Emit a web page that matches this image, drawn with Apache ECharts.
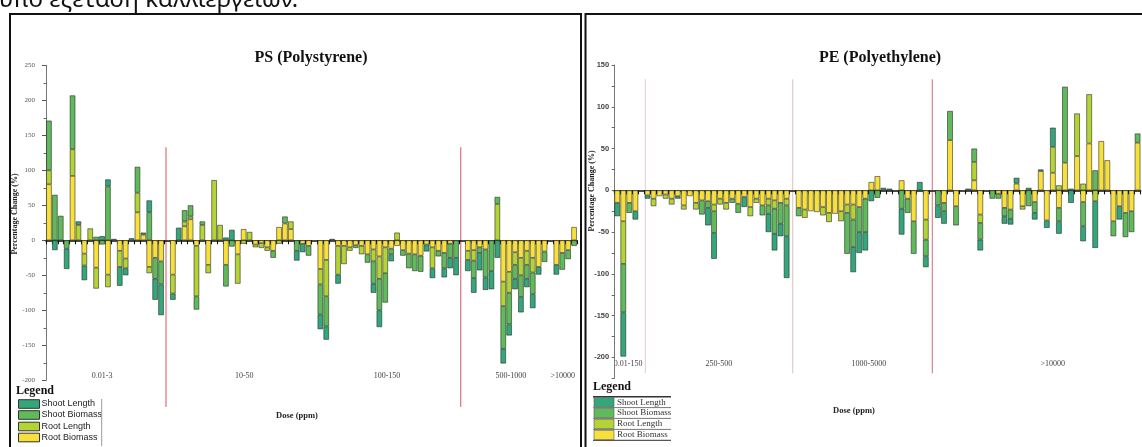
<!DOCTYPE html>
<html>
<head>
<meta charset="utf-8">
<title>PS / PE dose response</title>
<script src="https://cdn.jsdelivr.net/npm/echarts@6/dist/echarts.min.js"></script>
<style>
  html, body { margin: 0; padding: 0; background: #ffffff; }
  #chart { width: 1142px; height: 447px; }
</style>
</head>
<body>
<div id="chart"></div>
<script>
const _ = null;

// Series drawn in stacking order, nearest the zero line first
const seriesNames = ['Root Biomass', 'Root Length', 'Shoot Biomass', 'Shoot Length'];
const legendOrder = ['Shoot Length', 'Shoot Biomass', 'Root Length', 'Root Biomass'];
const seriesColors = {
  'Root Biomass': '#f8e03a',
  'Root Length': '#b4d335',
  'Shoot Biomass': '#5fba5a',
  'Shoot Length': '#33a77a'
};

// ---- PS (Polystyrene): percentage change per treatment ----
const psRootBiomass = [
  80, _, _, _, 92, _, -19, _, -39, _,
  -49, _, -15, -26, _, 40, 8, -38, -25, -30,
  _, -49, _, 20, 30, -8, _, -35, _, _,
  -35, _, -20, 16, _, -6, -4, -10, -15, 19,
  24, 16, _, -5, -8, _, -41, -28, _, -8,
  -8, -10, -7, -8, -20, -13, -23, -10, -12, -8,
  -14, -19, -20, -22, -6, -10, -15, -18, -5, _,
  _, -15, -14, -10, -13, _, _, -59, -45, -17,
  -25, -15, -25, -38, -16, _, -35, -18, -14, 19
];
const psRootLength = [
  20, _, _, _, 38, 22, -17, 17, -30, _,
  -18, _, -23, -14, _, 28, _, -9, _, _,
  _, -27, _, 7, 4, -72, 22, -12, 86, 22,
  _, _, -42, -5, 12, -4, -7, -5, _, -5,
  _, 11, _, _, _, _, -22, -52, _, -41,
  -26, -5, _, -12, _, -17, -32, -37, _, 11,
  _, _, _, _, _, -30, _, _, _, _,
  _, -13, -15, _, _, _, 52, -35, -30, -18,
  -25, -20, -21, _, _, _, _, _, _, _
];
const psShootBiomass = [
  71, 65, 35, -12, 77, _, _, _, 5, -6,
  77, _, _, _, _, 37, _, 40, -30, -33,
  _, _, _, 16, 16, -19, 5, _, _, _,
  -31, -9, _, _, _, _, _, _, -10, _,
  10, _, -15, _, -14, _, -43, -43, _, _,
  _, _, -4, _, -12, -32, -45, -42, -8, _,
  -8, -21, -24, -23, _, _, -8, -22, -20, -25,
  _, _, -25, -8, -40, -44, 10, -61, -45, -20,
  -31, -20, -31, _, -15, _, _, -24, -13, -8
];
const psShootLength = [
  _, -14, _, -29, _, 5, -21, _, _, 6,
  10, 2, -27, -10, 3, _, 3, 17, -30, -44,
  _, -9, 18, _, _, _, _, _, _, _,
  4, 15, _, _, _, _, _, _, _, _,
  _, _, -14, -12, _, _, -21, -19, 2, -13,
  _, _, _, _, _, -13, -24, _, -10, _,
  _, _, _, _, -10, -14, _, -13, -15, -25,
  _, -16, -21, -25, -18, -26, -25, -21, -16, -15,
  -22, -12, -20, -11, _, _, -14, _, _, _
];

// ---- PE (Polyethylene): percentage change per treatment ----
const peRootBiomass = [
  -15, -37, -15, -25, _, -6, -10, -7, -5, -10,
  -7, -18, -7, -15, -12, -13, -17, -10, -15, -10,
  -16, -8, -20, -10, -18, -10, -12, -15, -10, _,
  -21, -23, -25, -26, -20, -27, -28, -25, -17, -17,
  -20, -10, 10, 17, _, _, _, 12, -10, -37,
  _, -35, _, _, -15, 60, -19, _, _, 12,
  -29, _, _, -4, -21, -23, 8, -19, _, -14,
  23, -36, 21, -21, 33, _, 41, -14, 56, _,
  59, 36, -37, -19, -27, -25, 57
];
const peRootLength = [
  _, -51, _, _, _, _, -9, _, -5, -7,
  _, -5, _, -8, _, _, -8, -7, -8, _,
  _, _, -11, -5, _, -8, -10, _, -8, _,
  _, -10, _, _, -10, -11, _, -12, -10, -18,
  _, _, _, _, _, _, _, _, _, _,
  _, -24, _, _, _, _, _, _, _, 22,
  -10, _, _, _, _, _, _, -4, _, _,
  _, _, 31, 6, _, _, 51, 8, 59, -13,
  _, _, _, _, _, _, _
];
const peShootBiomass = [
  _, -58, -12, _, _, _, _, _, _, _,
  _, _, _, _, -17, -8, -26, _, _, -5,
  -11, _, _, _, -12, -10, -30, -25, -37, _,
  -10, _, _, _, _, _, _, _, -49, -33,
  -30, -40, _, -9, _, _, _, -22, -17, -39,
  _, -20, _, -18, -10, 35, -23, _, _, 16,
  -20, _, -10, -6, -10, -11, _, _, -19, -13,
  _, _, _, -16, 91, 2, _, -29, _, 24,
  _, _, -18, _, -29, -25, 11
];
const peShootLength = [
  -16, -53, _, -10, _, -4, _, _, _, _,
  -3, _, _, _, _, -21, -31, _, _, _,
  _, -12, _, _, _, -22, -20, -15, -50, _,
  _, _, _, _, _, _, _, _, _, -30,
  -25, -22, -13, _, 3, 2, _, -31, _, _,
  10, -13, _, -15, -15, _, _, _, 2, _,
  -13, _, _, _, -9, -7, 7, _, 3, -8,
  2, -9, 23, -15, _, -15, _, -18, _, -56,
  _, _, _, -16, _, _, _
];

const psCategories = psRootBiomass.map((v, i) => 'PS ' + (i + 1));
const peCategories = peRootBiomass.map((v, i) => 'PE ' + (i + 1));

// y-axis tick values
const psYTicks = { min: -200, max: 250, step: 50 };
const peYTicks = { min: -225, max: 150, step: 25, labelEvery: 50 };

// dose groups: label text and its position along the category axis
const psGroups = [
  { label: '0.01-3', at: 9.0 },
  { label: '10-50', at: 33.1 },
  { label: '100-150', at: 57.3 },
  { label: '500-1000', at: 78.3 },
  { label: '>10000', at: 87.1 }
];
const peGroups = [
  { label: '0.01-150', at: 1.8 },
  { label: '250-500', at: 16.8 },
  { label: '1000-5000', at: 41.6 },
  { label: '>10000', at: 72.0 }
];
// group separators (fractional category positions)
const psDividers = [
  { at: 19.84, color: '#d9737a' },
  { at: 69.79, color: '#d9737a' }
];
const peDividers = [
  { at: 4.65, color: '#e4d6d6' },
  { at: 29.0, color: '#e8c6c8' },
  { at: 52.08, color: '#d8868b' }
];

const SERIF = 'Liberation Serif';
const SANS = 'Liberation Sans';

function panelSeries(stack, axisIndex, columns) {
  return seriesNames.map((name, i) => ({
    name: name,
    type: 'bar',
    stack: stack,
    xAxisIndex: axisIndex,
    yAxisIndex: axisIndex,
    data: columns[i],
    barCategoryGap: '6%',
    itemStyle: {
      color: seriesColors[name],
      borderColor: 'rgba(35,35,35,0.8)',
      borderWidth: 0.7
    },
    emphasis: { disabled: true }
  }));
}

function categoryAxis(gridIndex, data) {
  return {
    type: 'category',
    gridIndex: gridIndex,
    data: data,
    axisLine: { onZero: true, lineStyle: { color: '#111', width: 1.6 } },
    axisTick: { show: true, interval: 0, length: 4, lineStyle: { color: '#111', width: 1.1 } },
    axisLabel: { show: false },
    splitLine: { show: false }
  };
}

const option = {
  animation: false,
  backgroundColor: '#ffffff',
  grid: [
    { left: 46, top: 65.3, width: 531, height: 315, containLabel: false, outerBoundsMode: 'none' },
    { left: 614.2, top: 65, width: 526.4, height: 313.3, containLabel: false, outerBoundsMode: 'none' }
  ],
  xAxis: [categoryAxis(0, psCategories), categoryAxis(1, peCategories)],
  yAxis: [
    {
      type: 'value', gridIndex: 0,
      min: psYTicks.min, max: psYTicks.max, interval: psYTicks.step,
      axisLine: { show: true, lineStyle: { color: '#777', width: 1 } },
      axisTick: { show: true, length: 4, lineStyle: { color: '#555' } },
      minorTick: { show: true, splitNumber: 2, length: 2.5, lineStyle: { color: '#666' } },
      axisLabel: { fontFamily: SERIF, fontSize: 7, color: '#555', margin: 11 },
      splitLine: { show: false }, minorSplitLine: { show: false }
    },
    {
      type: 'value', gridIndex: 1,
      min: peYTicks.min, max: peYTicks.max, interval: peYTicks.step,
      axisLine: { show: true, lineStyle: { color: '#777', width: 1 } },
      axisTick: { show: true, length: 2.5, lineStyle: { color: '#666' } },
      axisLabel: {
        fontFamily: SANS, fontSize: 7.5, fontWeight: 'bold', color: '#444', margin: 5,
        formatter: v => (v % peYTicks.labelEvery === 0 ? String(v) : '')
      },
      splitLine: { show: false }
    }
  ],
  series: [
    ...panelSeries('ps', 0, [psRootBiomass, psRootLength, psShootBiomass, psShootLength]),
    ...panelSeries('pe', 1, [peRootBiomass, peRootLength, peShootBiomass, peShootLength])
  ]
};

const chart = echarts.init(document.getElementById('chart'), null, { renderer: 'canvas' });
chart.setOption(option);

// pixel position of a (fractional) category index and a value on a panel
function toPixel(grid, cat, val) {
  const k = Math.floor(cat), t = cat - k;
  const a = chart.convertToPixel({ gridIndex: grid }, [k, val]);
  const b = chart.convertToPixel({ gridIndex: grid }, [k + 1, val]);
  return [a[0] + (b[0] - a[0]) * t, a[1]];
}

function text(x, y, str, o) {
  return {
    type: 'text', x: x, y: y, rotation: o.rotation || 0, silent: true,
    style: {
      text: str, fontFamily: o.family || SERIF, fontSize: o.size || 9,
      fontWeight: o.weight || 'normal', fill: o.color || '#222',
      align: o.align || 'center', verticalAlign: 'middle'
    }
  };
}
function line(x1, y1, x2, y2, color, width) {
  return { type: 'line', silent: true, shape: { x1, y1, x2, y2 }, style: { stroke: color, lineWidth: width } };
}

const graphics = [];

// caption line running in from above
graphics.push(text(-1, 0, 'υπό εξέταση καλλιεργειών.', { family: 'Noto Sans', size: 24, color: '#111', align: 'left' }));

// panel frames
graphics.push({ type: 'rect', silent: true, shape: { x: 10, y: 14, width: 571, height: 470 }, style: { fill: 'none', stroke: '#111', lineWidth: 2 } });
graphics.push({ type: 'rect', silent: true, shape: { x: 585.5, y: 14, width: 600, height: 470 }, style: { fill: 'none', stroke: '#111', lineWidth: 2 } });

// titles
graphics.push(text(311, 58, 'PS (Polystyrene)', { size: 16, weight: 'bold', color: '#111' }));
graphics.push(text(880, 58, 'PE (Polyethylene)', { size: 16, weight: 'bold', color: '#111' }));

// y-axis names
graphics.push(text(15, 214, 'Percentage Change (%)', { size: 8, weight: 'bold', color: '#222', rotation: Math.PI / 2 }));
graphics.push(text(591.5, 191, 'Percentage Change (%)', { size: 8, weight: 'bold', color: '#222', rotation: Math.PI / 2 }));

// group separators
psDividers.forEach(d => {
  const top = toPixel(0, d.at, 133), bot = toPixel(0, d.at, -238);
  graphics.push(line(top[0], top[1], bot[0], bot[1], d.color, 1.2));
});
peDividers.forEach(d => {
  const top = toPixel(1, d.at, 133), bot = toPixel(1, d.at, -219);
  graphics.push(line(top[0], top[1], bot[0], bot[1], d.color, 1.2));
});

// group labels
psGroups.forEach(gp => {
  const p = toPixel(0, gp.at, -194);
  graphics.push(text(p[0], p[1], gp.label, { size: 8, color: '#444' }));
});
peGroups.forEach(gp => {
  const p = toPixel(1, gp.at, -208);
  graphics.push(text(p[0], p[1], gp.label, { size: 8, color: '#444' }));
});

// x-axis names
graphics.push(text(297, 416, 'Dose (ppm)', { size: 8.5, weight: 'bold', color: '#222' }));
graphics.push(text(854, 411, 'Dose (ppm)', { size: 8.5, weight: 'bold', color: '#222' }));

// PS legend
graphics.push(text(16, 391, 'Legend', { size: 12, weight: 'bold', color: '#111', align: 'left' }));
[404, 415, 426.5, 437.5].forEach((cy, i) => {
  const name = legendOrder[i];
  graphics.push({ type: 'rect', silent: true, shape: { x: 18.5, y: cy - 4.3, width: 21, height: 8.6 },
    style: { fill: seriesColors[name], stroke: '#333', lineWidth: 1 } });
  graphics.push(text(41.5, cy, name, { family: SANS, size: 9, color: '#222', align: 'left' }));
});
graphics.push(line(101.7, 399, 101.7, 446, '#9a9a9a', 1));

// PE legend
graphics.push(text(593, 387, 'Legend', { size: 12, weight: 'bold', color: '#111', align: 'left' }));
graphics.push(line(593, 396.7, 671, 396.7, '#333', 1.5));
[402.2, 413, 424, 435].forEach((cy, i) => {
  const name = legendOrder[i];
  graphics.push({ type: 'rect', silent: true, shape: { x: 594, y: cy - 4.6, width: 20, height: 9.2 },
    style: { fill: seriesColors[name], stroke: '#555', lineWidth: 0.6 } });
  graphics.push(text(617, cy, name, { size: 9, color: '#333', align: 'left' }));
  graphics.push(line(593, cy + 5.4, 671, cy + 5.4, '#555', i === 3 ? 1.2 : 0.8));
});

chart.setOption({ graphic: graphics });
</script>
</body>
</html>
